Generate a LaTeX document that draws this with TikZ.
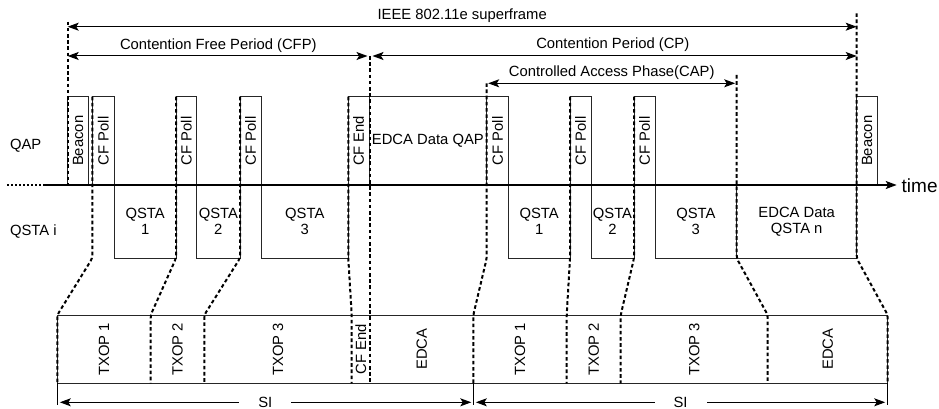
\documentclass[tikz,border=0pt]{standalone}
\usepackage{fontspec}
\setmainfont{Liberation Sans}
\usepackage{graphicx}
\usetikzlibrary{arrows.meta}
\begin{document}
\begin{tikzpicture}[x=1pt,y=-1pt,
  txt/.style={font=\fontsize{14.8}{15.8}\selectfont, inner sep=0pt, outer sep=0pt},
  box/.style={draw=black!85, line width=1pt, inner sep=0pt, outer sep=0pt, font=\fontsize{14.8}{15.8}\selectfont},
  qap/.style={box, minimum height=88.3pt, anchor=south west},
  qsta/.style={box, minimum height=73.3pt, anchor=north west, align=center},
  dsh/.style={line width=2pt, dash pattern=on 3.6pt off 2.6pt, rounded corners=3pt},
  tip/.tip={Stealth[length=11pt,width=8pt,inset=2.5pt]},
  arr/.style={line width=1pt, tip-tip},
]
\useasboundingbox (0,0) rectangle (939,409);

% ---- QAP frames
\node[qap, minimum width=21pt] (beacon1) at (67.7,185) {\rotatebox{90}{Beacon}};
\node[qap, minimum width=22pt] (poll1) at (92.3,185) {\rotatebox{90}{CF Poll}};
\node[qap, minimum width=20.7pt] (poll2) at (176,185) {\rotatebox{90}{CF Poll}};
\node[qap, minimum width=21.3pt] (poll3) at (240,185) {\rotatebox{90}{CF Poll}};
\node[qap, minimum width=20.7pt] (cfend) at (348.3,185) {\rotatebox{90}{CF End}};
\node[qap, minimum width=117.7pt] (edcaqap) at (369,185) {EDCA Data QAP};
\node[qap, minimum width=21.6pt] (poll4) at (486.7,185) {\rotatebox{90}{CF Poll}};
\node[qap, minimum width=21pt] (poll5) at (570,185) {\rotatebox{90}{CF Poll}};
\node[qap, minimum width=21pt] (poll6) at (634,185) {\rotatebox{90}{CF Poll}};
\node[qap, minimum width=20.6pt] (beacon2) at (856.7,185) {\rotatebox{90}{Beacon}};

% ---- QSTA frames
\node[qsta, minimum width=61.7pt] (q1) at (114.3,185) {QSTA\\1};
\node[qsta, minimum width=43.3pt] (q2) at (196.7,185) {QSTA\\2};
\node[qsta, minimum width=87pt] (q3) at (261.3,185) {QSTA\\3};
\node[qsta, minimum width=61.7pt] (q4) at (508.3,185) {QSTA\\1};
\node[qsta, minimum width=43pt] (q5) at (591,185) {QSTA\\2};
\node[qsta, minimum width=81.7pt] (q6) at (655,185) {QSTA\\3};
\node[qsta, minimum width=120pt] (qn) at (736.7,185) {EDCA Data\\QSTA n};

% ---- row labels
\node[txt, anchor=base west] (lqap) at (10,149.3) {QAP};
\node[txt, anchor=base west] (lqsta) at (10,235) {QSTA i};

% ---- time axis
\coordinate (dot0) at (7,185);
\coordinate (bl0) at (43,185);
\coordinate (bl1) at (896.7,185);
\draw[line width=1.2pt, dash pattern=on 1.5pt off 2.5pt] (dot0) -- (bl0);
\draw[line width=1.8pt, -tip] (bl0) -- (bl1);
\node[anchor=base west, font=\fontsize{19}{20}\selectfont, inner sep=0pt] (time) at (901.5,192.3) {time};

% ---- bottom row
\node[box, minimum width=830.4pt, minimum height=68.3pt, anchor=north west] (row) at (57.3,315) {};
\coordinate (t1) at (57.3,315);
\coordinate (t2) at (150.7,315);
\coordinate (t3) at (204.3,315);
\coordinate (t4) at (351.7,315);
\coordinate (t5) at (369.5,315);
\coordinate (t6) at (473.3,315);
\coordinate (t7) at (566.7,315);
\coordinate (t8) at (620.7,315);
\coordinate (t9) at (767.7,315);
\coordinate (t10) at (887.7,315);

\node[txt, rotate=90] (r1) at (104,349.2) {TXOP 1};
\node[txt, rotate=90] (r2) at (177.5,349.2) {TXOP 2};
\node[txt, rotate=90] (r3) at (278,349.2) {TXOP 3};
\node[txt, rotate=90] (r4) at (360.8,349.2) {CF End};
\node[txt, rotate=90] (r5) at (421.7,349.2) {EDCA};
\node[txt, rotate=90] (r6) at (520,349.2) {TXOP 1};
\node[txt, rotate=90] (r7) at (593.7,349.2) {TXOP 2};
\node[txt, rotate=90] (r8) at (694.2,349.2) {TXOP 3};
\node[txt, rotate=90] (r9) at (827.7,349.2) {EDCA};

% ---- top markers
\coordinate (sfL) at (67.7,21.7);
\coordinate (sfR) at (856.7,13.3);
\coordinate (cfpR) at (369.5,56);
\coordinate (capL) at (486.7,83.3);
\coordinate (capR) at (736.7,75);

% ---- dashed guide lines
\draw[dsh] (sfL) -- (beacon1.south west);
\draw[dsh] (poll1.north west) -- (poll1.west |- q1.south) -- (t1) -- (t1 |- row.south);
\draw[dsh] (poll2.north west) -- (q1.south east) -- (t2) -- (t2 |- row.south);
\draw[dsh] (poll3.north west) -- (q2.south east) -- (t3) -- (t3 |- row.south);
\draw[dsh] (cfend.north west) -- (q3.south east) -- (t4) -- (t4 |- row.south);
\draw[dsh] (cfpR) -- (t5) -- (t5 |- row.south);
\draw[dsh] (capL) -- (poll4.west |- q4.south) -- (t6) -- (t6 |- row.south);
\draw[dsh] (poll5.north west) -- (q4.south east) -- (t7) -- (t7 |- row.south);
\draw[dsh] (poll6.north west) -- (q5.south east) -- (t8) -- (t8 |- row.south);
\draw[dsh] (capR) -- (q6.south east) -- (t9) -- (t9 |- row.south);
\draw[dsh] (sfR) -- (qn.south east) -- (t10) -- (t10 |- row.south);

% ---- period arrows
\coordinate (sfa1) at (67.7,26.7);
\coordinate (sfa2) at (856.7,26.7);
\coordinate (cfa1) at (67.7,56);
\coordinate (cfa2) at (369.5,56);
\coordinate (cpa2) at (856.7,56);
\coordinate (capa1) at (486.7,83.3);
\coordinate (capa2) at (736.7,83.3);
\draw[arr] (sfa1) -- (sfa2);
\draw[arr, shorten >=2pt] (cfa1) -- (cfa2);
\draw[arr, shorten <=3pt] (cfa2) -- (cpa2);
\draw[arr, shorten <=1.5pt, shorten >=1.5pt] (capa1) -- (capa2);
\node[txt, anchor=base] (lsf) at (462.2,20) {IEEE 802.11e superframe};
\node[txt, anchor=base] (lcfp) at (218.3,49.3) {Contention Free Period (CFP)};
\node[txt, anchor=base] (lcp) at (612.8,49) {Contention Period (CP)};
\node[txt, anchor=base] (lcap) at (611.7,77) {Controlled Access Phase(CAP)};

% ---- SI arrows
\coordinate (s1) at (57.3,402.3);
\coordinate (s2) at (473.3,402.3);
\coordinate (s3) at (887.7,402.3);
\draw[line width=1pt] (t1 |- row.south) -- ++(0,22);
\draw[line width=1pt] (t6 |- row.south) -- ++(0,22);
\draw[line width=1pt] (t10 |- row.south) -- ++(0,22);
\draw[arr, shorten <=2.5pt, shorten >=2pt] (s1) -- node[txt, fill=white, inner xsep=19pt, inner ysep=2pt] (si1) {SI} (s2);
\draw[arr, shorten <=2.5pt, shorten >=2.5pt] (s2) -- node[txt, fill=white, inner xsep=19pt, inner ysep=2pt] (si2) {SI} (s3);
\end{tikzpicture}
\end{document}
